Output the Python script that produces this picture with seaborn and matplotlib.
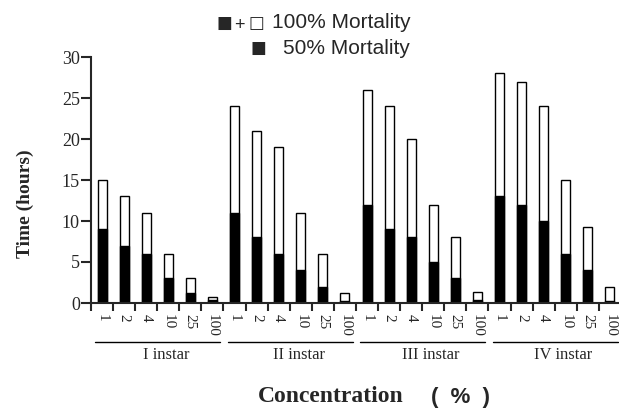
import numpy as np
import pandas as pd
import matplotlib
matplotlib.use('Agg')
import matplotlib.pyplot as plt
import seaborn as sns

# Data (hours)
instars = ['I instar', 'II instar', 'III instar', 'IV instar']
concentrations = ['1', '2', '4', '10', '25', '100']
mort100 = [15, 13, 11, 6, 3, 0.7,
           24, 21, 19, 11, 6, 1.2,
           26, 24, 20, 12, 8, 1.4,
           28, 27, 24, 15, 9.3, 2.0]
mort50 = [9, 7, 6, 3, 1.2, 0.4,
          11, 8, 6, 4, 2, 0.2,
          12, 9, 8, 5, 3, 0.4,
          13, 12, 10, 6, 4, 0.2]

df = pd.DataFrame({
    'key': [f'{g}-{c}' for g in instars for c in concentrations],
    'conc': [c for g in instars for c in concentrations],
    'm100': mort100,
    'm50': mort50,
})

sns.set_style('ticks')
serif = 'Liberation Serif'
sans = 'Liberation Sans'

fig = plt.figure(figsize=(6.19, 4.08), dpi=100)
ax = fig.add_axes([91 / 619, 105 / 408, 530 / 619, 246 / 408])

sns.barplot(data=df, x='key', y='m100', color='white', edgecolor='black',
            linewidth=1.0, width=0.41, saturation=1, ax=ax)
sns.barplot(data=df, x='key', y='m50', color='black', edgecolor='black',
            linewidth=1.0, width=0.41, saturation=1, ax=ax)

n = len(df)
ax.set_xlim(-0.5, n - 0.5)
ax.set_ylim(0, 30)
yt = [0, 5, 10, 15, 20, 25, 30]
ax.set_yticks(yt)
ax.set_yticklabels([str(v) for v in yt], fontfamily=serif, fontsize=13)

# tick marks at category boundaries, labels at bar centres
ax.set_xticks(np.arange(n + 1) - 0.5)
ax.set_xticklabels([])
ax.set_xticks(np.arange(n), minor=True)
ax.set_xticklabels(df['conc'], minor=True, rotation=-90, fontfamily=serif,
                   fontsize=11, va='top', ha='center')
ax.tick_params(axis='x', which='major', length=6, width=1.5, direction='out')
ax.tick_params(axis='x', which='minor', length=0, pad=8)
ax.tick_params(axis='y', length=7, width=1.5, direction='out', pad=1)

ax.set_xlabel('')
ax.set_ylabel('')
sns.despine(ax=ax)
for side in ['left', 'bottom']:
    ax.spines[side].set_linewidth(1.5)

# instar group underlines and labels
tr = ax.get_xaxis_transform()
k = len(concentrations)
for g, name in enumerate(instars):
    x0 = g * k - 0.3
    x1 = min(g * k + 5.35, n - 0.5)
    ax.plot([x0, x1], [-0.157, -0.157], color='black', lw=1.0,
            transform=tr, clip_on=False)
    ax.text(g * k + 2.9, -0.18, name, transform=tr, ha='center', va='top',
            fontfamily=serif, fontsize=12)

# axis titles
fig.text(25 / 619, 1 - 204 / 408, 'Time (hours)', rotation=90, ha='center',
         va='center', fontfamily=serif, fontweight='bold', fontsize=14)
fig.text(258 / 619, 1 - 397 / 408, 'Concentration', ha='left', va='center',
         fontfamily=serif, fontweight='bold', fontsize=17)
fig.text(431 / 619, 1 - 397 / 408, '(  %  )', ha='left', va='center',
         fontfamily=sans, fontweight='bold', fontsize=16)

# legend drawn as text rows at the top
fig.text(217 / 619, 1 - 23 / 408, '\u25a0', ha='left', va='center',
         fontfamily='DejaVu Sans', fontsize=12)
fig.text(234 / 619, 1 - 25 / 408, '+', ha='left', va='center',
         fontfamily=sans, fontsize=13)
fig.text(248 / 619, 1 - 23 / 408, '\u25a1', ha='left', va='center',
         fontfamily='DejaVu Sans', fontsize=12)
fig.text(272 / 619, 1 - 23 / 408, '100% Mortality', ha='left', va='center',
         fontfamily=sans, fontsize=15)
fig.text(251 / 619, 1 - 48 / 408, '\u25a0', ha='left', va='center',
         fontfamily='DejaVu Sans', fontsize=12)
fig.text(283 / 619, 1 - 48 / 408, '50% Mortality', ha='left', va='center',
         fontfamily=sans, fontsize=15)

fig.savefig('out.png', dpi=100)
